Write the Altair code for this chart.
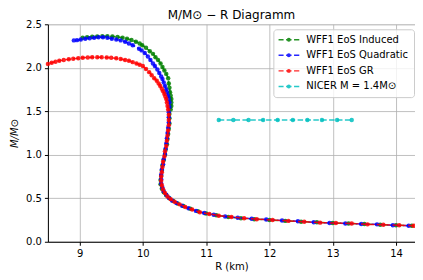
import altair as alt
import pandas as pd

# ---- data ----
series_names = ["WFF1 EoS Induced", "WFF1 EoS Quadratic", "WFF1 EoS GR", "NICER M = 1.4M⊙"]
series_colors = ["#008000", "#0000ff", "#ff0000", "#00bfbf"]

# Induced (green): low-mass branch then high-mass arc
R_induced_low = [14.25, 14.00, 13.75, 13.50, 13.25, 13.00, 12.75, 12.50, 12.25, 12.00,
                 11.76, 11.55, 11.35, 11.16, 11.00, 10.87, 10.75, 10.64, 10.55, 10.48,
                 10.42, 10.37, 10.33, 10.30, 10.28, 10.28, 10.29, 10.30, 10.31, 10.33,
                 10.35, 10.36, 10.38, 10.39, 10.40, 10.41, 10.42]
M_induced_low = [0.185, 0.19, 0.195, 0.205, 0.21, 0.215, 0.225, 0.23, 0.24, 0.25,
                 0.26, 0.27, 0.285, 0.305, 0.325, 0.35, 0.38, 0.41, 0.44, 0.47,
                 0.50, 0.535, 0.57, 0.61, 0.66, 0.71, 0.76, 0.82, 0.88, 0.94,
                 1.00, 1.06, 1.12, 1.18, 1.24, 1.30, 1.36]
R_induced_high = [10.42, 10.42, 10.44, 10.45, 10.45, 10.45, 10.44, 10.43, 10.42, 10.41,
                  10.40, 10.37, 10.34, 10.31, 10.28, 10.24, 10.20, 10.16, 10.11, 10.05,
                  9.99, 9.95, 9.89, 9.82, 9.75, 9.68, 9.60, 9.52, 9.44, 9.36,
                  9.28, 9.20, 9.12, 9.05]
M_induced_high = [1.42, 1.47, 1.52, 1.56, 1.60, 1.64, 1.68, 1.72, 1.77, 1.82,
                  1.88, 1.93, 1.97, 2.01, 2.05, 2.09, 2.12, 2.16, 2.19, 2.23,
                  2.26, 2.28, 2.30, 2.32, 2.335, 2.345, 2.355, 2.36, 2.362, 2.362,
                  2.36, 2.357, 2.352, 2.345]

# Quadratic (blue)
R_quad_low = [14.20, 13.95, 13.70, 13.45, 13.20, 12.95, 12.70, 12.45, 12.20, 11.95,
              11.72, 11.50, 11.30, 11.12, 10.97, 10.84, 10.72, 10.62, 10.53, 10.46,
              10.41, 10.37, 10.33, 10.31, 10.29, 10.29, 10.29, 10.30, 10.32, 10.33,
              10.35, 10.36, 10.37, 10.38, 10.39, 10.40, 10.41, 10.41]
M_quad_low = [0.185, 0.19, 0.20, 0.205, 0.21, 0.215, 0.225, 0.235, 0.245, 0.255,
              0.265, 0.275, 0.29, 0.31, 0.33, 0.355, 0.385, 0.415, 0.445, 0.475,
              0.505, 0.54, 0.58, 0.62, 0.67, 0.72, 0.77, 0.83, 0.89, 0.95,
              1.01, 1.07, 1.13, 1.19, 1.25, 1.31, 1.37, 1.43]
R_quad_high = [10.41, 10.42, 10.42, 10.41, 10.40, 10.38, 10.37, 10.35, 10.33, 10.31,
               10.29, 10.26, 10.23, 10.19, 10.16, 10.12, 10.08, 10.03, 9.98, 9.94,
               9.84, 9.78, 9.72, 9.65, 9.58, 9.51, 9.44, 9.37, 9.30, 9.23,
               9.16, 9.09, 9.02, 8.96, 8.91]
M_quad_high = [1.49, 1.55, 1.60, 1.64, 1.68, 1.72, 1.75, 1.79, 1.83, 1.87,
               1.90, 1.94, 1.98, 2.02, 2.05, 2.09, 2.13, 2.17, 2.20, 2.22,
               2.26, 2.28, 2.30, 2.315, 2.325, 2.335, 2.345, 2.35, 2.35, 2.345,
               2.34, 2.335, 2.325, 2.318, 2.315]

# GR (red)
R_gr_low = [14.28, 14.05, 13.80, 13.55, 13.30, 13.05, 12.80, 12.55, 12.30, 12.05,
            11.80, 11.60, 11.40, 11.20, 11.05, 10.90, 10.78, 10.67, 10.58, 10.50,
            10.44, 10.39, 10.35, 10.32, 10.30, 10.29, 10.29, 10.30, 10.31, 10.32,
            10.34, 10.35, 10.37, 10.38, 10.39, 10.40, 10.41, 10.41, 10.41]
M_gr_low = [0.185, 0.19, 0.195, 0.20, 0.21, 0.215, 0.22, 0.23, 0.24, 0.25,
            0.26, 0.27, 0.285, 0.30, 0.32, 0.34, 0.37, 0.40, 0.43, 0.46,
            0.49, 0.52, 0.56, 0.60, 0.65, 0.70, 0.75, 0.80, 0.86, 0.92,
            0.98, 1.04, 1.10, 1.16, 1.22, 1.28, 1.34, 1.40, 1.46]
R_gr_high = [10.40, 10.39, 10.38, 10.37, 10.355, 10.34, 10.32, 10.30, 10.275, 10.25,
             10.22, 10.18, 10.14, 10.10, 10.05, 10.00, 9.95, 9.90, 9.84, 9.78,
             9.72, 9.65, 9.58, 9.50, 9.43, 9.35, 9.28, 9.20, 9.13, 9.05,
             8.98, 8.90, 8.83, 8.75, 8.68, 8.62, 8.56, 8.50]
M_gr_high = [1.52, 1.56, 1.60, 1.64, 1.67, 1.70, 1.73, 1.76, 1.79, 1.82,
             1.85, 1.88, 1.915, 1.95, 1.985, 2.02, 2.035, 2.05, 2.065, 2.08,
             2.09, 2.10, 2.11, 2.115, 2.118, 2.12, 2.12, 2.12, 2.118, 2.115,
             2.11, 2.105, 2.098, 2.09, 2.08, 2.07, 2.058, 2.045]

# NICER (cyan)
R_nicer = [11.20, 11.43, 11.67, 11.90, 12.13, 12.37, 12.60, 12.83, 13.07, 13.30]
M_nicer = [1.4, 1.4, 1.4, 1.4, 1.4, 1.4, 1.4, 1.4, 1.4, 1.4]

x_ticks = [9, 10, 11, 12, 13, 14]
y_ticks = [0.0, 0.5, 1.0, 1.5, 2.0, 2.5]

# ---- build table ----
curves = [
    (series_names[0], R_induced_low + R_induced_high, M_induced_low + M_induced_high),
    (series_names[1], R_quad_low + R_quad_high, M_quad_low + M_quad_high),
    (series_names[2], R_gr_low + R_gr_high, M_gr_low + M_gr_high),
    (series_names[3], R_nicer, M_nicer),
]
rows = []
for name, Rs, Ms in curves:
    assert len(Rs) == len(Ms), name
    for i, (r, m) in enumerate(zip(Rs, Ms)):
        rows.append({"R": r, "M": m, "series": name, "idx": i})
df = pd.DataFrame(rows)

FONT = "DejaVu Sans"
xscale = alt.Scale(domain=[8.5, 14.3], nice=False, zero=False)
yscale = alt.Scale(domain=[0, 2.5], nice=False, zero=False)
cscale = alt.Scale(domain=series_names, range=series_colors)

xaxis = alt.Axis(values=x_ticks, title="R (km)", format="d", grid=True,
                 gridColor="#b0b0b0", gridWidth=0.8, domainColor="black",
                 tickColor="black", tickSize=3.5, labelPadding=3,
                 titlePadding=3, labelFontSize=10, titleFontSize=10,
                 labelFont=FONT, titleFont=FONT, titleFontWeight="normal",
                 labelColor="black", titleColor="black", labelFlush=False)
yaxis = alt.Axis(values=y_ticks, title="M/M⊙", format=".1f", grid=True,
                 gridColor="#b0b0b0", gridWidth=0.8, domainColor="black",
                 tickColor="black", tickSize=3.5, labelPadding=3,
                 titlePadding=6, labelFontSize=10, titleFontSize=10,
                 labelFont=FONT, titleFont=FONT, titleFontWeight="normal",
                 titleFontStyle="italic",
                 labelColor="black", titleColor="black", labelFlush=False)

legend_path = ("M-1,-0.07H-0.5V0.07H-1Z"
               "M-0.26,-0.07H0.26V0.07H-0.26Z"
               "M0.5,-0.07H1V0.07H0.5Z"
               "M0.19,0A0.19,0.19,0,1,1,-0.19,0A0.19,0.19,0,1,1,0.19,0Z")
legend = alt.Legend(title=None, orient="none", legendX=226, legendY=5,
                    symbolType=legend_path, symbolSize=441, symbolOpacity=0.9,
                    symbolStrokeWidth=0,
                    labelFont=FONT, labelFontSize=10, labelColor="black",
                    clipHeight=11, rowPadding=4.6, padding=5, labelOffset=7,
                    strokeColor="#cccccc", fillColor="rgba(255,255,255,0.8)",
                    cornerRadius=3)

layers = []
for k, name in enumerate(series_names):
    sub = alt.Chart(df[df["series"] == name])
    enc = dict(
        x=alt.X("R:Q", scale=xscale, axis=xaxis),
        y=alt.Y("M:Q", scale=yscale, axis=yaxis),
        order=alt.Order("idx:Q"),
    )
    if k == 0:
        pcolor = alt.Color("series:N", scale=cscale, legend=legend)
    else:
        pcolor = alt.Color("series:N", scale=cscale)
    pts = sub.mark_point(filled=True, shape="circle", size=20, opacity=0.85).encode(
        color=pcolor, **enc)
    line = sub.mark_line(strokeDash=[5.5, 2.4], strokeWidth=1.5, opacity=0.85).encode(
        color=alt.Color("series:N", scale=cscale), **enc)
    layers += [pts, line]

chart = alt.layer(*layers).properties(
    width=368, height=218,
    autosize=alt.AutoSizeParams(type="none"),
    padding={"left": 40, "top": 16, "right": 0, "bottom": 40},
    title=alt.Title("M/M⊙ − R Diagramm", font=FONT, fontSize=12,
                    fontWeight="normal", color="black", offset=-3,
                    anchor="middle", frame="group"),
).configure_view(stroke="black", strokeWidth=1).configure(background="white")

chart.save("out.html", embed_options={"renderer": "svg", "actions": False})
